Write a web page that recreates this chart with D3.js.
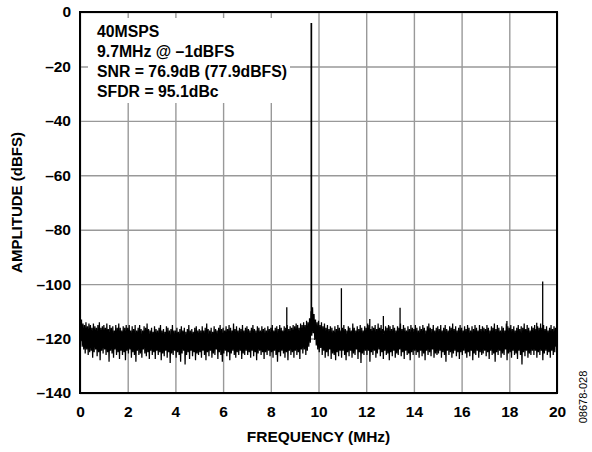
<!DOCTYPE html>
<html>
<head>
<meta charset="utf-8">
<script src="https://cdn.jsdelivr.net/npm/d3@7"></script>
<style>
body { margin: 0; background: #fff; }
text { font-family: "Liberation Sans", Arial, sans-serif; font-weight: bold; fill: #000; }
</style>
</head>
<body>
<script>
var x_ticks = [0, 2, 4, 6, 8, 10, 12, 14, 16, 18, 20];
var y_ticks = [0, -20, -40, -60, -80, -100, -120, -140];

// noise floor, one bin every 0.0625 MHz: top and bottom of each bin (dBFS)
var bin_step = 0.0625;
var noise_hi = [
    -111,-113,-114.5,-115,-114,-115.5,-114.5,-115,-116,-114.5,-115.5,-116,-115,-114,-116,-115.5,
    -115,-116,-114.5,-116.5,-115,-116,-115.5,-117,-115,-116,-114.5,-116,-117,-115.5,-116,-115,
    -116,-115,-117,-115.5,-116.5,-115,-117,-116,-115,-116.5,-117,-115.5,-116,-114.5,-116.5,-117,
    -116,-117.5,-115.5,-116.5,-117,-116,-115,-117,-116.5,-117.5,-115.5,-116,-117,-116.5,-115,-117,
    -117,-116,-117.5,-116.5,-115.5,-117,-116,-117.5,-116.5,-115,-117,-116.5,-117.5,-116,-115.5,-117,
    -116.5,-117,-115.5,-117,-116,-114.5,-116.5,-117,-116,-117.5,-115.5,-116.5,-117,-116,-115,-116.5,
    -116,-117,-115.5,-116.5,-115,-116,-117,-114.5,-116.5,-115.5,-117,-116,-116.5,-115,-117,-116,
    -115.5,-116.5,-117,-116,-115,-116.5,-117,-115.5,-116,-117,-115.5,-116.5,-116,-117,-115.5,-116.5,
    -116,-115,-117,-116,-115.5,-116.5,-115,-116,-117,-115.5,-116,-115,-116.5,-115.5,-116,-115,
    -115.5,-114.5,-115,-116,-114.5,-115,-114,-115,-113.5,-114,-112.5,-110,-108.5,-111,-113,-114,
    -113.5,-115,-114,-115.5,-114.5,-116,-115,-116.5,-115.5,-116,-117,-115.5,-116.5,-115,-116,-117,
    -116,-115,-116.5,-117,-115.5,-116,-117,-114.5,-116,-117,-115.5,-116.5,-115,-116,-117,-115.5,
    -116,-114.5,-115,-116.5,-115.5,-116,-115,-116.5,-114.5,-116,-115,-116.5,-117,-115.5,-116,-115,
    -115.5,-116.5,-115,-116,-117,-115.5,-116,-114.5,-116.5,-115,-116,-117,-115.5,-116.5,-115,-116,
    -116.5,-115,-116,-117,-115.5,-116.5,-115,-116,-117,-115.5,-114.5,-116,-116.5,-115,-117,-116,
    -115.5,-116.5,-115,-117,-116,-115,-116.5,-117,-115.5,-116,-114.5,-116.5,-115.5,-117,-116,-115,
    -116,-117,-115.5,-116.5,-115,-116,-117,-115.5,-116.5,-115,-116,-117,-115,-116.5,-115.5,-116,
    -116.5,-115,-116,-117,-115.5,-116,-114.5,-116.5,-115,-116,-117,-115.5,-116,-117,-114.5,-115.5,
    -116,-115,-116.5,-115.5,-117,-116,-115,-116.5,-115.5,-116,-114.5,-116.5,-115,-116,-117,-115.5,
    -116,-115,-116.5,-115.5,-116,-114.5,-116,-115,-116.5,-115.5,-117,-116,-115,-116.5,-115.5,-116
];
var noise_lo = [
    -121,-123,-124,-125.5,-124,-126,-125,-124.5,-127,-125,-124,-126.5,-125,-128,-124.5,-125.5,
    -124,-126,-125,-128.5,-124.5,-125.5,-127,-124,-126,-125,-127.5,-124.5,-126,-125,-128,-124.5,
    -125.5,-124,-127,-125,-126,-128.5,-124.5,-126,-125.5,-127,-124,-125.5,-126.5,-125,-127.5,-124.5,
    -126,-125,-127.5,-124.5,-126,-125,-128,-125.5,-126.5,-124.5,-127,-125,-129,-125.5,-126,-124.5,
    -127,-125,-126,-128.5,-125.5,-124.5,-129.5,-126,-125,-127.5,-124.5,-126.5,-125,-128,-125.5,-126,
    -125,-127,-124.5,-126,-128,-125,-126.5,-124.5,-127,-125.5,-126,-124,-127.5,-125,-126,-128.5,
    -125.5,-124.5,-126.5,-125,-128,-125.5,-124.5,-126,-127,-125,-126,-124.5,-127.5,-125.5,-126,-124.5,
    -126,-125,-127,-124.5,-126.5,-125,-128,-125.5,-124.5,-126,-125,-127.5,-125,-126,-124.5,-126.5,
    -125,-127,-124.5,-126,-128.5,-125,-126.5,-124.5,-125.5,-127,-125,-128,-124.5,-126,-125,-127,
    -124.5,-126,-125,-127.5,-124,-125.5,-124,-126,-124.5,-123,-121.5,-119,-118,-120.5,-122.5,-124,
    -125,-123.5,-126,-124.5,-127,-125,-126.5,-124,-127.5,-125.5,-126,-128,-125,-126.5,-124.5,-127,
    -124.5,-126,-128,-125,-126.5,-124.5,-127,-125.5,-126,-124,-127.5,-125,-129,-125.5,-126,-124.5,
    -126,-124.5,-128.5,-125,-126,-124.5,-127,-125.5,-124,-126.5,-125,-127.5,-124.5,-126,-125.5,-128,
    -125,-126.5,-124.5,-127,-125.5,-126,-124,-126.5,-125,-127.5,-124.5,-126,-125.5,-128,-125,-126,
    -124.5,-126,-125,-127,-124.5,-126.5,-125.5,-128,-124.5,-126,-125,-126.5,-124,-127,-125.5,-126,
    -125.5,-124.5,-127,-125,-126,-128.5,-124.5,-126,-125,-127,-125.5,-124.5,-126.5,-125,-127.5,-125,
    -126,-124.5,-125.5,-127,-125,-126.5,-124.5,-128,-125.5,-126,-124.5,-127,-125,-126,-125.5,-124.5,
    -126.5,-125,-127.5,-124.5,-126,-125.5,-128.5,-125,-126,-124.5,-127,-125.5,-126,-124,-128,-125.5,
    -125,-127,-124.5,-126,-125.5,-127.5,-124.5,-126,-129.5,-125,-126.5,-124.5,-127,-125.5,-126,-124.5,
    -126,-124.5,-127,-125,-126,-124.5,-128,-125.5,-124.5,-126,-125,-127,-124.5,-126,-125,-123
];

// fundamental and spurs
var spur_freq = [9.7, 8.67, 10.96, 12.15, 12.72, 13.42, 17.9, 19.15, 19.4];
var spur_amp = [-4, -108.5, -101.5, -112.8, -111.7, -108.7, -113.5, -114.2, -99];

var note_lines = ['40MSPS', '9.7MHz @ \u20131dBFS', 'SNR = 76.9dB (77.9dBFS)', 'SFDR = 95.1dBc'];

var plot_left = 80, plot_right = 557, plot_top = 12, plot_bottom = 393;

var svg = d3.select('body').append('svg')
    .attr('width', 592)
    .attr('height', 452);

var x = d3.scaleLinear().domain([0, 20]).range([plot_left, plot_right]);
var y = d3.scaleLinear().domain([-140, 0]).range([plot_bottom, plot_top]);

function minus(d) {
    return d < 0 ? '\u2013' + Math.abs(d) : String(d);
}

// grid
svg.append('g')
    .attr('class', 'grid')
    .attr('transform', 'translate(0,' + plot_bottom + ')')
    .call(d3.axisBottom(x).tickValues(x_ticks).tickSize(-(plot_bottom - plot_top)).tickFormat(''));
svg.append('g')
    .attr('class', 'grid')
    .attr('transform', 'translate(' + plot_left + ',0)')
    .call(d3.axisLeft(y).tickValues(y_ticks).tickSize(-(plot_right - plot_left)).tickFormat(''));
svg.selectAll('.grid .domain').remove();
svg.selectAll('.grid line')
    .attr('stroke', '#999')
    .attr('stroke-width', 1.4);

// white label box
svg.append('rect')
    .attr('x', plot_left + 8)
    .attr('y', plot_top + 6)
    .attr('width', 202)
    .attr('height', 85)
    .attr('fill', '#fff');

svg.append('g')
    .selectAll('text')
    .data(note_lines)
    .enter()
    .append('text')
        .attr('x', plot_left + 17)
        .attr('y', function(d, i) { return plot_top + 25 + i * 20; })
        .style('font-size', '15.8px')
        .text(function(d) { return d; });

// noise floor as a zigzag between top and bottom of each bin
var noise_pts = [];
for (var i = 0; i < noise_hi.length; i++) {
    noise_pts.push([i * bin_step, noise_hi[i]]);
    noise_pts.push([i * bin_step + bin_step / 2, noise_lo[i]]);
}

var line = d3.line()
    .x(function(d) { return x(d[0]); })
    .y(function(d) { return y(d[1]); });

svg.append('path')
    .datum(noise_pts)
    .attr('d', line)
    .attr('fill', 'none')
    .attr('stroke', '#000')
    .attr('stroke-width', 1.25);

svg.append('g')
    .selectAll('path')
    .data(spur_freq)
    .enter()
    .append('path')
        .attr('d', function(d, i) { return line([[d, -118], [d, spur_amp[i]]]); })
        .attr('fill', 'none')
        .attr('stroke', '#000')
        .attr('stroke-width', function(d, i) { return i === 0 ? 1.7 : 1.3; });

// frame
svg.append('rect')
    .attr('x', plot_left)
    .attr('y', plot_top)
    .attr('width', plot_right - plot_left)
    .attr('height', plot_bottom - plot_top)
    .attr('fill', 'none')
    .attr('stroke', '#000')
    .attr('stroke-width', 2);

// tick labels
var xa = svg.append('g')
    .attr('transform', 'translate(0,' + plot_bottom + ')')
    .call(d3.axisBottom(x).tickValues(x_ticks).tickSize(0).tickPadding(13));
var ya = svg.append('g')
    .attr('transform', 'translate(' + plot_left + ',0)')
    .call(d3.axisLeft(y).tickValues(y_ticks).tickSize(0).tickPadding(9).tickFormat(minus));
xa.select('.domain').remove();
ya.select('.domain').remove();
svg.selectAll('.tick text')
    .attr('font-family', null)
    .attr('font-size', null)
    .style('font-size', '15.5px');

// titles
svg.append('text')
    .attr('x', (plot_left + plot_right) / 2)
    .attr('y', 442)
    .attr('text-anchor', 'middle')
    .style('font-size', '15.5px')
    .text('FREQUENCY (MHz)');

svg.append('text')
    .attr('transform', 'translate(22,' + (plot_top + plot_bottom) / 2 + ') rotate(-90)')
    .attr('text-anchor', 'middle')
    .style('font-size', '15px')
    .text('AMPLITUDE (dBFS)');

svg.append('text')
    .attr('transform', 'translate(587,397) rotate(-90)')
    .attr('text-anchor', 'middle')
    .style('font-size', '11px')
    .style('font-weight', 'normal')
    .text('08678-028');
</script>
</body>
</html>
